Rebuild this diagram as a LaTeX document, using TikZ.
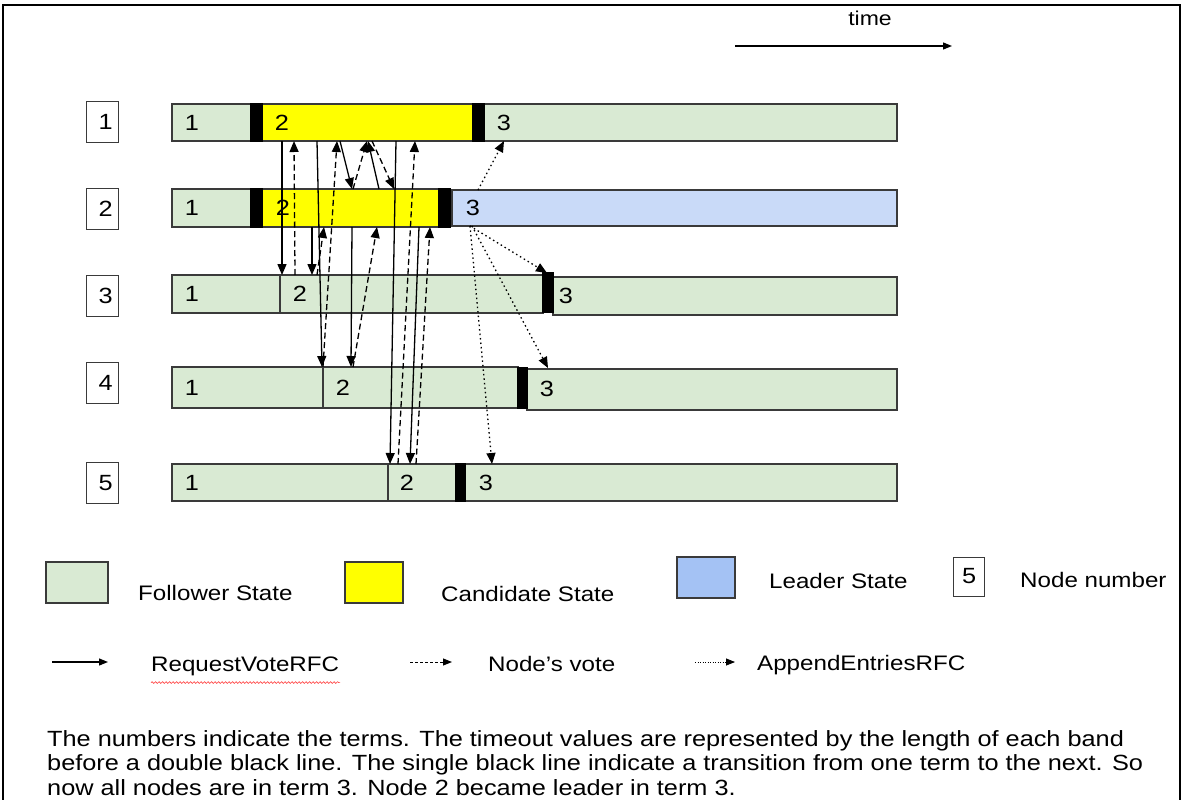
\documentclass[tikz,border=0pt]{standalone}
\usepackage{fontspec}
\setmainfont{Liberation Sans}[FakeStretch=1.15]
\usetikzlibrary{arrows.meta,decorations.pathmorphing}
\definecolor{folgreen}{HTML}{D9EAD3}
\definecolor{candyellow}{HTML}{FFFF00}
\definecolor{leadblue}{HTML}{C9DAF8}
\definecolor{leadblueleg}{HTML}{A4C2F4}
\definecolor{edgegray}{HTML}{3A3A3A}
\newcommand\segm[6]{%
  \pgfmathsetmacro\segW{#4-#3}\pgfmathsetmacro\segH{#6-#5}%
  \node[#2, anchor=north west, minimum width=\segW pt, minimum height=\segH pt] (#1) at (#3,#5) {};}
\tikzset{
  seg/.style={rectangle, draw=edgegray, line width=1.3pt, inner sep=0pt, outer sep=0pt},
  fol/.style={seg, fill=folgreen},
  cand/.style={seg, fill=candyellow},
  lead/.style={seg, fill=leadblue},
  blk/.style={seg, fill=black, draw=black},
  numbox/.style={rectangle, draw=edgegray, line width=1.3pt, fill=white, inner sep=0pt,
    minimum width=32pt, minimum height=41pt, font=\fontsize{22}{24}\selectfont},
  term/.style={font=\fontsize{22}{24}\selectfont, inner sep=0pt},
  legtxt/.style={font=\fontsize{21}{24}\selectfont, inner sep=0pt, anchor=base west},
  msg/.style={line width=1.3pt, -{Triangle[length=11pt,width=9pt]}},
  rv/.style={msg},
  vote/.style={msg, dash pattern=on 6pt off 3.5pt},
  ae/.style={msg, dash pattern=on 1.5pt off 3pt},
  legarrow/.style={line width=1.3pt, -{Triangle[length=9pt,width=7pt]}},
}
\begin{document}
\begin{tikzpicture}[x=1pt,y=-1pt]
\useasboundingbox (0,0) rectangle (1183,800);
\fill[white] (0,0) rectangle (1183,800);
% frame
\draw[line width=2pt] (3,810) -- (3,5) -- (1180,5) -- (1180,810);

% time arrow
\node[font=\fontsize{20}{24}\selectfont, inner sep=0pt, anchor=base] (timelbl) at (870,26) {time};
\coordinate (t0) at (735,46);
\coordinate (t1) at (952,46);
\draw[legarrow] (t0) -- (t1);

% node number boxes
\node[numbox, anchor=north west] (n1) at (86,101) {\hspace*{6pt}1};
\node[numbox, anchor=north west] (n2) at (86,188) {\hspace*{6pt}2};
\node[numbox, anchor=north west] (n3) at (86,275) {\hspace*{6pt}3};
\node[numbox, anchor=north west] (n4) at (86,362) {\hspace*{6pt}4};
\node[numbox, anchor=north west] (n5) at (86,462) {\hspace*{6pt}5};

% row 1
\segm{r1a}{fol}{172}{251}{104}{141}
\segm{r1b}{cand}{262}{473}{104}{141}
\segm{r1c}{fol}{484}{897}{104}{141}
\segm{r1k1}{blk}{251}{262}{104}{141}
\segm{r1k2}{blk}{473}{484}{104}{141}
% row 2
\segm{r2a}{fol}{172}{251}{189}{227}
\segm{r2b}{cand}{262}{439}{189}{227}
\segm{r2c}{lead}{452}{897}{190}{226}
\segm{r2k1}{blk}{251}{262}{189}{227}
\segm{r2k2}{blk}{439}{450}{189}{227}
% row 3
\segm{r3a}{fol}{172}{280}{275}{313}
\segm{r3b}{fol}{280}{543}{275}{313}
\segm{r3c}{fol}{553}{897}{277}{315}
\segm{r3k}{blk}{543}{553}{273}{312}
% row 4
\segm{r4a}{fol}{172}{323}{367}{408}
\segm{r4b}{fol}{323}{518}{367}{408}
\segm{r4c}{fol}{527}{897}{369}{410}
\segm{r4k}{blk}{518}{527}{368}{408}
% row 5
\segm{r5a}{fol}{172}{388}{464}{501}
\segm{r5b}{fol}{388}{456}{464}{501}
\segm{r5c}{fol}{465}{897}{464}{501}
\segm{r5k}{blk}{456}{465}{464}{501}

% term labels
\node[term] (l1a) at (192,123) {1};
\node[term] (l1b) at (282,123) {2};
\node[term] (l1c) at (504,123) {3};
\node[term] (l2a) at (192,208) {1};
\node[term] (l2b) at (283,208) {2};
\node[term] (l2c) at (473,208) {3};
\node[term] (l3a) at (192,294) {1};
\node[term] (l3b) at (300,294) {2};
\node[term] (l3c) at (566,296) {3};
\node[term] (l4a) at (192,388) {1};
\node[term] (l4b) at (343,388) {2};
\node[term] (l4c) at (547,389) {3};
\node[term] (l5a) at (192,483) {1};
\node[term] (l5b) at (407,483) {2};
\node[term] (l5c) at (486,483) {3};

% message end points
\coordinate (c1s) at (282,141); \coordinate (c1e) at (282,275);
\coordinate (c3s) at (317,141); \coordinate (c3e) at (322,367);
\coordinate (c5s) at (340,141); \coordinate (c5e) at (352,189);
\coordinate (c7s) at (379,189); \coordinate (c7e) at (368,141);
\coordinate (c9s) at (396,141); \coordinate (c9e) at (390,464);
\coordinate (c11s) at (419,227); \coordinate (c11e) at (410,464);
\coordinate (c13s) at (312,227); \coordinate (c13e) at (312,275);
\coordinate (c15s) at (352,227); \coordinate (c15e) at (351,367);
\coordinate (d2s) at (295,275); \coordinate (d2e) at (294,141);
\coordinate (d4s) at (323,367); \coordinate (d4e) at (337,141);
\coordinate (d6s) at (353,189); \coordinate (d6e) at (367,141);
\coordinate (d8s) at (372,141); \coordinate (d8e) at (394,189);
\coordinate (d10s) at (398,464); \coordinate (d10e) at (415,141);
\coordinate (d12s) at (416,464); \coordinate (d12e) at (430,227);
\coordinate (d14s) at (317,275); \coordinate (d14e) at (324,227);
\coordinate (d16s) at (353,367); \coordinate (d16e) at (377,227);
\coordinate (e1s) at (478,190); \coordinate (e1e) at (504,141);
\coordinate (e2s) at (470,226); \coordinate (e2e) at (547,273);
\coordinate (e3s) at (472,226); \coordinate (e3e) at (548,368);
\coordinate (e4s) at (470,226); \coordinate (e4e) at (492,464);

% RequestVote
\draw[rv] (c1s) -- (c1e);
\draw[rv] (c3s) -- (c3e);
\draw[rv] (c5s) -- (c5e);
\draw[rv] (c7s) -- (c7e);
\draw[rv] (c9s) -- (c9e);
\draw[rv] (c11s) -- (c11e);
\draw[rv] (c13s) -- (c13e);
\draw[rv] (c15s) -- (c15e);
% votes
\draw[vote] (d2s) -- (d2e);
\draw[vote] (d4s) -- (d4e);
\draw[vote] (d6s) -- (d6e);
\draw[vote] (d8s) -- (d8e);
\draw[vote] (d10s) -- (d10e);
\draw[vote] (d12s) -- (d12e);
\draw[vote] (d14s) -- (d14e);
\draw[vote] (d16s) -- (d16e);
% append entries
\draw[ae] (e1s) -- (e1e);
\draw[ae] (e2s) -- (e2e);
\draw[ae] (e3s) -- (e3e);
\draw[ae] (e4s) -- (e4e);

% legend row 1
\segm{kfol}{fol}{46}{108}{562}{603}
\node[legtxt] (tfol) at (138,600) {Follower State};
\segm{kcand}{cand}{345}{403}{562}{603}
\segm{klead}{seg, fill=leadblueleg}{677}{735}{557}{598}
\node[legtxt] (tcand) at (441,601) {Candidate State};
\node[legtxt] (tlead) at (769,588) {Leader State};
\node[numbox, anchor=north west, minimum width=31pt, minimum height=39pt] (kbox) at (953,557) {\raisebox{2pt}{5}};
\node[legtxt] (tbox) at (1020,587) {Node number};

% legend row 2
\coordinate (k1s) at (52,662); \coordinate (k1e) at (108,662);
\draw[legarrow] (k1s) -- (k1e);
\node[legtxt] (trv) at (151,671) {RequestVoteRFC};
\draw[red!75, line width=0.6pt, decorate, decoration={snake, amplitude=0.9pt, segment length=3.5pt}]
  (trv.south west) ++(0,7) -- ++(189,0);
\coordinate (k2s) at (410,662); \coordinate (k2e) at (452,662);
\draw[legarrow, line width=1pt, dash pattern=on 3pt off 2pt] (k2s) -- (k2e);
\node[legtxt] (tvote) at (488,671) {Node's vote};
\coordinate (k3s) at (695,662); \coordinate (k3e) at (735,662);
\draw[legarrow, line width=0.8pt, dash pattern=on 1pt off 1.5pt] (k3s) -- (k3e);
\node[legtxt] (tae) at (757,670) {AppendEntriesRFC};

% explanatory note (base anchor = baseline of the last line)
\node[anchor=base west, align=left, inner sep=0pt, font=\fontsize{22}{24.5}\selectfont] (note) at (47,795)
  {The numbers indicate the terms. The timeout values are represented by the length of each band\\
   before a double black line. The single black line indicate a transition from one term to the next. So\\
   now all nodes are in term 3. Node 2 became leader in term 3.};
\end{tikzpicture}
\end{document}
